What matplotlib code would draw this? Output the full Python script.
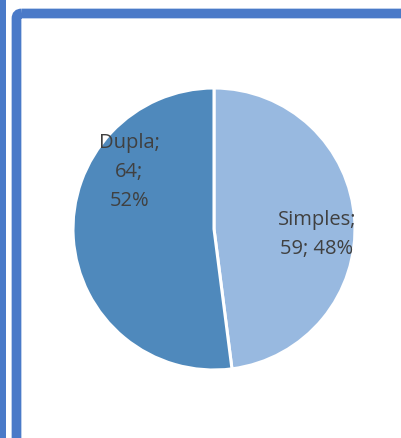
import matplotlib.pyplot as plt
from matplotlib.patches import FancyBboxPatch, Rectangle

categories = ['Simples', 'Dupla']
counts = [59, 64]
colors = ['#98b9e0', '#4f89bc']
label_pos = [(0.73, -0.03), (-0.60, 0.41)]
label_fmt = ['{name};\n{val}; {pct}%', '{name};\n{val};\n{pct}%']

W, H = 402, 439
fig = plt.figure(figsize=(W / 100, H / 100), dpi=100)

# frame layer in pixel coordinates
bg = fig.add_axes([0, 0, 1, 1])
bg.set_xlim(0, W)
bg.set_ylim(H, 0)
bg.axis('off')
blue = '#4a7ac8'
bg.add_patch(Rectangle((-20, -20), 26, H + 40, color=blue, lw=0))
bg.add_patch(FancyBboxPatch((16.5, 14.5), W + 40, H + 40,
                            boxstyle='round,pad=0,rounding_size=5',
                            fill=False, ec=blue, lw=7))

ax = fig.add_axes([73 / W, 68 / H, 282 / W, 282 / H])
ax.pie(counts, colors=colors, startangle=90, counterclock=False,
       wedgeprops=dict(edgecolor='white', linewidth=2.2))
ax.set_xlim(-1, 1)
ax.set_ylim(-1, 1)
ax.set_aspect('equal')

total = sum(counts)
for name, val, (x, y), fmt in zip(categories, counts, label_pos, label_fmt):
    pct = round(val / total * 100)
    ax.text(x, y, fmt.format(name=name, val=val, pct=pct), ha='center',
            va='center', fontsize=14.5, color='#404040', family='Open Sans',
            linespacing=1.6)

fig.savefig('out.png', dpi=100)
